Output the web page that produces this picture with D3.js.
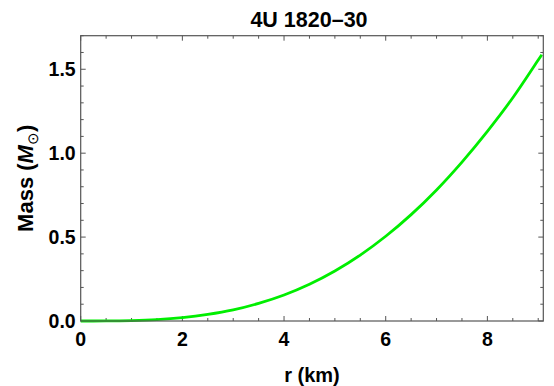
<!DOCTYPE html>
<html>
<head>
<meta charset="utf-8">
<script src="https://cdn.jsdelivr.net/npm/d3@7"></script>
<style>
  body { margin: 0; background: #fff; }
  svg { display: block; font-family: "Liberation Sans", Arial, sans-serif; font-weight: bold; }
</style>
</head>
<body>
<div id="chart"></div>
<script>
// Data: radius (km) vs enclosed mass (solar masses)
const radius = [0, 0.5, 1, 1.5, 2, 2.5, 3, 3.5, 4, 4.5, 5, 5.5, 6, 6.5, 7, 7.5, 8, 8.5, 9, 9.07];
const mass   = [0, 0.0003, 0.0025, 0.0084, 0.020, 0.039, 0.066, 0.105, 0.155, 0.219, 0.298, 0.393, 0.505, 0.634, 0.781, 0.947, 1.13, 1.33, 1.555, 1.587];

const xMajor = [0, 2, 4, 6, 8];
const yMajor = [0, 0.5, 1.0, 1.5];
const title = "4U 1820\u201330";

const width = 554, height = 386;
const margin = {left: 80.7, right: 10.7, top: 35.7, bottom: 65};

const svg = d3.select("#chart").append("svg")
  .attr("width", width)
  .attr("height", height);

const x = d3.scaleLinear().domain([0, 9.1]).range([margin.left, width - margin.right]);
const y = d3.scaleLinear().domain([0, 1.7]).range([height - margin.bottom, margin.top]);

const x0 = x.range()[0], x1 = x.range()[1];
const y0 = y.range()[0], y1 = y.range()[1];

// minor tick positions
const xMinor = d3.range(0, 9.1, 0.5).filter(v => !xMajor.some(m => Math.abs(m - v) < 1e-6));
const yMinor = d3.range(0, 1.71, 0.1).filter(v => !yMajor.some(m => Math.abs(m - v) < 1e-6));

const frameColor = "#555";
const ticks = svg.append("g").attr("stroke", frameColor).attr("stroke-width", 1);

// bottom & top ticks (inward)
[[xMajor, 5], [xMinor, 3]].forEach(([vals, len]) => {
  vals.forEach(v => {
    ticks.append("line").attr("x1", x(v)).attr("x2", x(v)).attr("y1", y0).attr("y2", y0 - len);
    ticks.append("line").attr("x1", x(v)).attr("x2", x(v)).attr("y1", y1).attr("y2", y1 + len);
  });
});
// left & right ticks
[[yMajor, 5], [yMinor, 3]].forEach(([vals, len]) => {
  vals.forEach(v => {
    ticks.append("line").attr("y1", y(v)).attr("y2", y(v)).attr("x1", x0).attr("x2", x0 + len);
    ticks.append("line").attr("y1", y(v)).attr("y2", y(v)).attr("x1", x1).attr("x2", x1 - len);
  });
});

// curve
const line = d3.line()
  .x((d, i) => x(radius[i]))
  .y(d => y(d))
  .curve(d3.curveMonotoneX);

svg.append("path")
  .datum(mass)
  .attr("d", line)
  .attr("fill", "none")
  .attr("stroke", "#00ee00")
  .attr("stroke-width", 2.8);

// frame
svg.append("rect")
  .attr("x", x0).attr("y", y1)
  .attr("width", x1 - x0).attr("height", y0 - y1)
  .attr("fill", "none")
  .attr("stroke", frameColor)
  .attr("stroke-width", 1.2);

// tick labels
svg.append("g").selectAll("text")
  .data(xMajor).enter().append("text")
  .attr("x", d => x(d))
  .attr("y", y0 + 25)
  .attr("text-anchor", "middle")
  .style("font-size", "19.5px")
  .text(d => d3.format("d")(d));

svg.append("g").selectAll("text")
  .data(yMajor).enter().append("text")
  .attr("x", x0 - 5)
  .attr("y", d => y(d) + 7)
  .attr("text-anchor", "end")
  .style("font-size", "19.5px")
  .text(d => d3.format(".1f")(d));

// title
svg.append("text")
  .attr("x", (x0 + x1) / 2 - 3)
  .attr("y", 27)
  .attr("text-anchor", "middle")
  .style("font-size", "21.5px")
  .text(title);

// x label
svg.append("text")
  .attr("x", (x0 + x1) / 2)
  .attr("y", 382)
  .attr("text-anchor", "middle")
  .style("font-size", "20px")
  .text("r (km)");

// y label
const yl = svg.append("text")
  .attr("transform", `translate(33,${(y0 + y1) / 2}) rotate(-90)`)
  .attr("text-anchor", "middle")
  .style("font-size", "22px");
yl.append("tspan").text("Mass (");
yl.append("tspan").style("font-style", "italic").text("M");
yl.append("tspan").attr("dy", 5).style("font-size", "15px").style("font-weight", "normal").text("\u2299");
yl.append("tspan").attr("dy", -5).text(")");
</script>
</body>
</html>
